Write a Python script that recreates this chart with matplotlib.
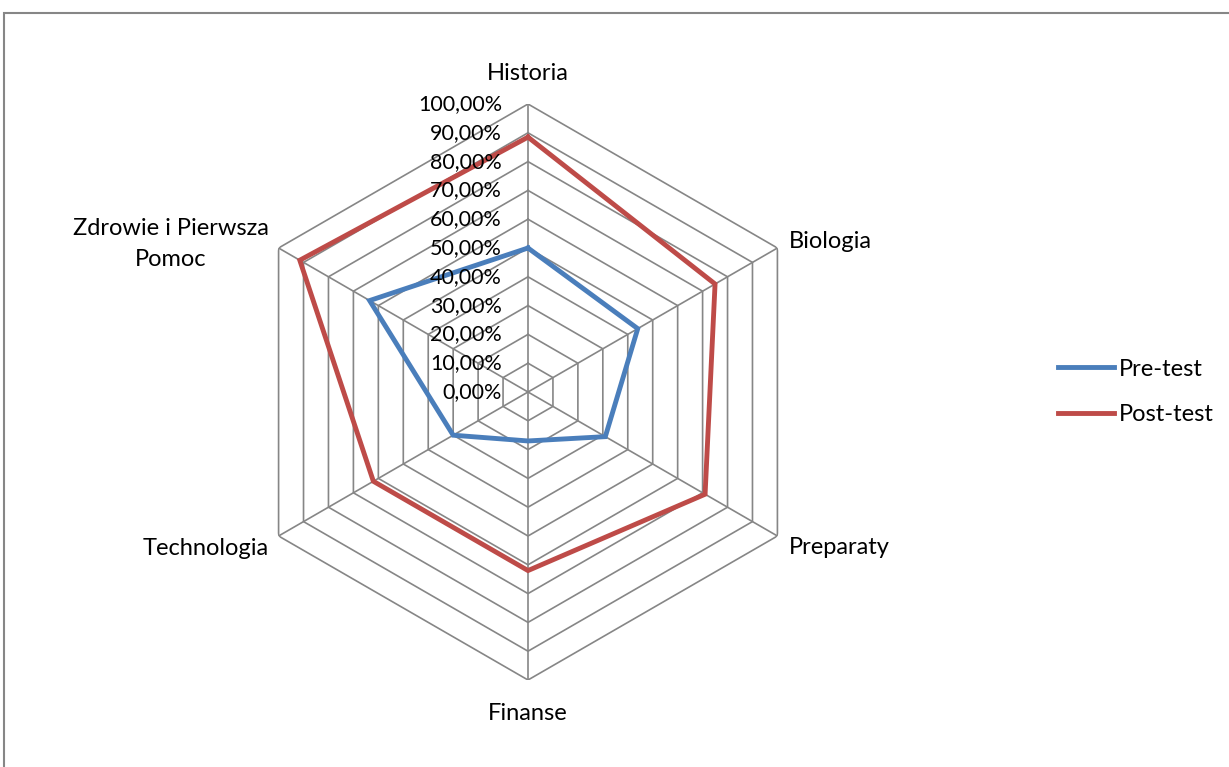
import numpy as np
import matplotlib
matplotlib.use("Agg")
import matplotlib.pyplot as plt
from matplotlib.patches import Rectangle

categories = ["Historia", "Biologia", "Preparaty", "Finanse", "Technologia", "Zdrowie i Pierwsza\nPomoc"]
pre_test = [0.50, 0.44, 0.31, 0.17, 0.30, 0.635]
post_test = [0.885, 0.75, 0.71, 0.62, 0.62, 0.915]
ring_values = [0.0, 0.1, 0.2, 0.3, 0.4, 0.5, 0.6, 0.7, 0.8, 0.9, 1.0]
ring_labels = ["0,00%", "10,00%", "20,00%", "30,00%", "40,00%", "50,00%",
               "60,00%", "70,00%", "80,00%", "90,00%", "100,00%"]
series_names = ["Pre-test", "Post-test"]

plt.rcParams['font.family'] = ['Lato', 'DejaVu Sans']
FS_R = 15.5
FS = 17
GRID = "#868686"
BLUE = "#4A7EBB"
RED = "#BE4B48"

W, H = 1229, 767
fig = plt.figure(figsize=(W / 100, H / 100), dpi=100)

cx, cy, R = 528, 392, 288
ax = fig.add_axes([(cx - R) / W, (H - cy - R) / H, 2 * R / W, 2 * R / H], projection="polar")
ax.set_theta_offset(np.pi / 2)
ax.set_theta_direction(-1)
ax.set_ylim(0, 1)
ax.grid(False)
ax.spines["polar"].set_visible(False)
ax.set_xticks([])
ax.set_yticks([])
ax.patch.set_alpha(0)

n = len(categories)
theta = np.linspace(0, 2 * np.pi, n, endpoint=False)
theta_c = np.append(theta, theta[0])

# hexagonal rings
for r in ring_values[1:]:
    ax.plot(theta_c, [r] * (n + 1), color=GRID, lw=1.2, zorder=1)
# spokes
for t in theta:
    ax.plot([t, t], [0, 1], color=GRID, lw=1.2, zorder=1)

# series
for vals, col, name in [(pre_test, BLUE, series_names[0]), (post_test, RED, series_names[1])]:
    v = np.append(vals, vals[0])
    ax.plot(theta_c, v, color=col, lw=3.5, label=name, zorder=3, solid_joinstyle="miter")

# radial labels
for r, lab in zip(ring_values, ring_labels):
    ax.annotate(lab, xy=(0, r), xytext=(-26, 0), textcoords="offset pixels",
                ha="right", va="center", fontsize=FS_R, color="black", zorder=4,
                annotation_clip=False)

# category labels
offsets = [((0, 30), "center", "center"),
           ((11, 6), "left", "center"),
           ((11, -12), "left", "center"),
           ((0, -34), "center", "center"),
           ((-10, -12), "right", "center"),
           ((-10, 4), "right", "center")]
for t, lab, (off, ha, va) in zip(theta, categories, offsets):
    ax.annotate(lab, xy=(t, 1), xytext=off, textcoords="offset pixels",
                ha=ha, va=va, fontsize=FS, multialignment="center",
                annotation_clip=False, linespacing=1.55)

leg = fig.legend(loc="center left", bbox_to_anchor=(1037 / W, 1 - 392 / H),
                 frameon=False, fontsize=FS, handlelength=2.35, handletextpad=0.2,
                 labelspacing=1.05)
for line in leg.get_lines():
    line.set_linewidth(3.5)

fig.patches.append(Rectangle((3.5 / W, 0 - 0.05), 1.2, 1 - 12.5 / H + 0.05,
                             transform=fig.transFigure, fill=False,
                             edgecolor=GRID, lw=1.5, clip_on=False))

fig.savefig("out.png", dpi=100)
